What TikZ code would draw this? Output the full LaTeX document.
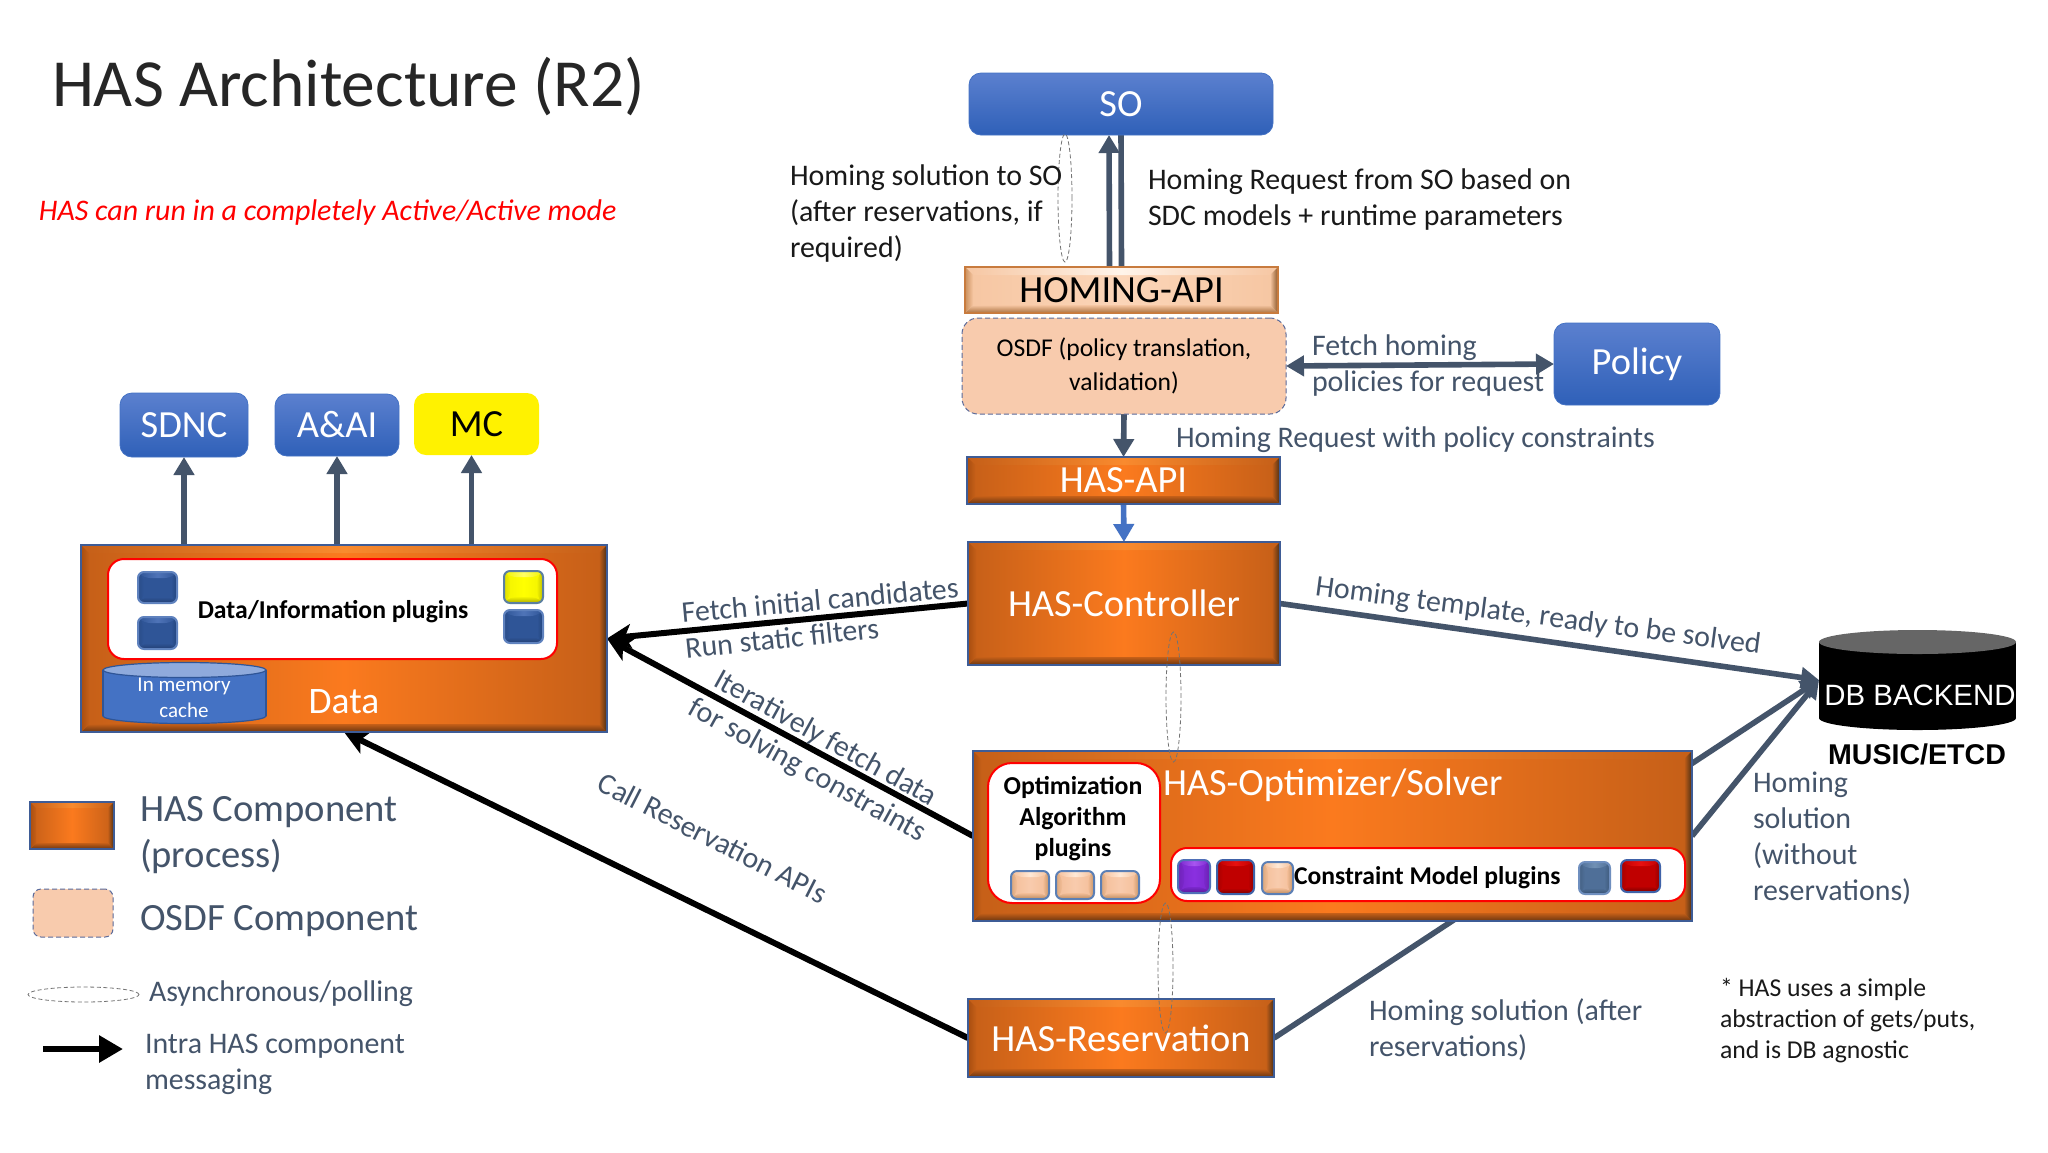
\documentclass[tikz,border=0pt]{standalone}
\usepackage{fontspec}
\setmainfont{Carlito}
\newfontfamily\arialf{Liberation Sans}
\usetikzlibrary{arrows.meta,calc,backgrounds,shapes.geometric}
\definecolor{slate}{HTML}{44546A}
\definecolor{peach}{HTML}{F8CBAD}
\definecolor{dashblue}{HTML}{5A6A9A}
\definecolor{bluetop}{HTML}{5B80CF}
\definecolor{bluebot}{HTML}{2F60B8}
\definecolor{blueln}{HTML}{4472C4}
\definecolor{bluedk}{HTML}{2F5597}
\definecolor{bluelt}{HTML}{8FAADC}
% orange bevel
\definecolor{oa}{HTML}{3E5C96}\definecolor{ob}{HTML}{FB7A1E}\definecolor{oc}{HTML}{C55F18}
\definecolor{od}{HTML}{F98A2E}\definecolor{oe}{HTML}{6A3510}\definecolor{of}{HTML}{A84E10}\definecolor{og}{HTML}{4A2E14}
% peach bevel
\definecolor{pa}{HTML}{C87B3E}\definecolor{pb}{HTML}{FBD5B8}\definecolor{pc}{HTML}{F6C6A2}
\definecolor{pd}{HTML}{FFF4EA}\definecolor{pe}{HTML}{A9703F}\definecolor{pf}{HTML}{C98F5C}\definecolor{pg}{HTML}{8A5528}
% small blue
\definecolor{sa}{HTML}{5F82BE}\definecolor{sb}{HTML}{2F5597}\definecolor{sd}{HTML}{4F74B8}\definecolor{se}{HTML}{233F73}\definecolor{sf}{HTML}{2A4D8A}\definecolor{sg}{HTML}{23457C}
% small yellow
\definecolor{ya}{HTML}{5B7FA0}\definecolor{yb}{HTML}{FFFF00}\definecolor{yc}{HTML}{F2F200}\definecolor{yd}{HTML}{FFFF66}\definecolor{ye}{HTML}{A8A800}\definecolor{yf}{HTML}{DDDD00}\definecolor{yg}{HTML}{BDBD00}
% small red
\definecolor{ra}{HTML}{3F62A8}\definecolor{rb}{HTML}{C00000}\definecolor{rd}{HTML}{E81010}\definecolor{re}{HTML}{7A0000}\definecolor{rf}{HTML}{A80000}\definecolor{rg}{HTML}{900000}
% small purple
\definecolor{va}{HTML}{4F70B8}\definecolor{vb}{HTML}{8A30E0}\definecolor{vc}{HTML}{7A28CC}\definecolor{vd}{HTML}{A855F0}\definecolor{ve}{HTML}{5A1A96}\definecolor{vf}{HTML}{7022B8}\definecolor{vg}{HTML}{6A20B0}
% small slate
\definecolor{ta}{HTML}{6F8FBF}\definecolor{tb}{HTML}{4F6F98}\definecolor{td}{HTML}{7090B5}\definecolor{te}{HTML}{36506F}\definecolor{tf}{HTML}{456285}\definecolor{tg}{HTML}{3E5A7C}
% small peach
\definecolor{qa}{HTML}{5B7FB5}\definecolor{qb}{HTML}{F8CBAD}\definecolor{qc}{HTML}{F4BE98}\definecolor{qd}{HTML}{FFE8D6}\definecolor{qe}{HTML}{B98A5F}\definecolor{qf}{HTML}{D8A67C}\definecolor{qg}{HTML}{C39468}
\newcommand{\fsz}[2]{\fontsize{#1}{#2}\selectfont}
\newcommand{\bx}[7][]{%
  \pgfmathsetmacro\cxx{(#3+#5)/2}\pgfmathsetmacro\cyy{(#4+#6)/2}%
  \node[inner sep=0pt,outer sep=0pt,minimum width={(#5-#3)*0.5pt},minimum height={(#6-#4)*0.5pt},align=center,#1] (#2) at (\cxx,\cyy) {#7};}
\tikzset{
  bevelbase/.style n args={8}{draw=#1,line width=1pt,
    path picture={
      \coordinate (nw) at (path picture bounding box.north west);
      \coordinate (ne) at (path picture bounding box.north east);
      \coordinate (sw) at (path picture bounding box.south west);
      \coordinate (se) at (path picture bounding box.south east);
      \shade[left color=#3,right color=#3,middle color=#2] (nw) rectangle (se);
      \shade[left color=#3,right color=#3,middle color=#4]
        (nw) -- (ne) -- ($(ne)+(-#8,#8)$) -- ($(nw)+(#8,#8)$) -- cycle;
      \shade[top color=#3,bottom color=#5]
        (sw) -- (se) -- ($(se)+(-#8,-#8)$) -- ($(sw)+(#8,-#8)$) -- cycle;
      \shade[left color=#6,right color=#3] (nw) -- (sw) -- ($(sw)+(#8,-#8)$) -- ($(nw)+(#8,#8)$) -- cycle;
      \shade[left color=#3,right color=#7] (ne) -- (se) -- ($(se)+(-#8,-#8)$) -- ($(ne)+(-#8,#8)$) -- cycle;
    }},
  hasbox/.style={bevelbase={oa}{ob}{oc}{od}{oe}{of}{og}{8},text=white},
  apibox/.style={bevelbase={pa}{pb}{pc}{pd}{pe}{pf}{pg}{8},text=black},
  btnblue/.style={bevelbase={sa}{sb}{sb}{sd}{se}{sf}{sg}{6},rounded corners=3pt},
  btnyellow/.style={bevelbase={ya}{yb}{yc}{yd}{ye}{yf}{yg}{6},rounded corners=3pt},
  btnred/.style={bevelbase={ra}{rb}{rb}{rd}{re}{rf}{rg}{6},rounded corners=3pt},
  btnpurple/.style={bevelbase={va}{vb}{vc}{vd}{ve}{vf}{vg}{6},rounded corners=3pt},
  btnslate/.style={bevelbase={ta}{tb}{tb}{td}{te}{tf}{tg}{6},rounded corners=3pt},
  btnpeach/.style={bevelbase={qa}{qb}{qc}{qd}{qe}{qf}{qg}{6},rounded corners=3pt},
  bluebox/.style={rounded corners=6pt,top color=bluetop,bottom color=bluebot,text=white,draw=blueln,line width=.4pt},
  yellowbox/.style={rounded corners=6pt,fill=yellow,text=black},
  whitered/.style={rounded corners=8pt,fill=white,draw=red,line width=1pt},
  osdfbox/.style={rounded corners=8pt,fill=peach,draw=dashblue,line width=.5pt,dash pattern=on 2.5pt off 1.5pt},
  asyncell/.style={ellipse,draw=black!55,line width=.4pt,dash pattern=on 2pt off 1.3pt},
  lbl/.style={inner sep=0pt,outer sep=0pt,text=slate,font=\fsz{14.95}{18},align=left},
  blk/.style={lbl,text=black!90},
  bld/.style={inner sep=0pt,outer sep=0pt,text=black,font=\bfseries\fsz{12.85}{15.5},align=center},
  conn/.style={draw=slate,line width=2.8pt},
  connarr/.style={conn,-{Triangle[length=9pt,width=10pt]}},
  intra/.style={draw=black,line width=3pt,-{Stealth[length=12pt,width=12pt,inset=3pt]}},
  bigtxt/.style={font=\fsz{19.2}{22}},
}
\begin{document}
\begin{tikzpicture}[x=0.5pt,y=-0.5pt]
\useasboundingbox (0,0) rectangle (2048,1152);
% ---- title texts ----
\node[lbl,anchor=west,text=black!85,font=\fsz{33.7}{38}] (title) at (52,87) {HAS Architecture (R2)};
\node[lbl,anchor=west,text=red,font=\itshape\fsz{14.95}{18}] (mode) at (39,213) {HAS can run in a completely Active/Active mode};
% ---- central column ----
\bx[bluebox,bigtxt]{so}{969}{73}{1273}{135}{\raisebox{-1pt}{SO}}
\bx[apibox,bigtxt]{hoa}{965}{267}{1278}{313}{\raisebox{-2.8pt}{HOMING-API}}
\bx[osdfbox,font=\fsz{12.8}{15.5},text=black]{osdf}{962}{318}{1286}{414}{OSDF (policy translation,\\\raisebox{-1.5pt}{validation)}}
\bx[bluebox,bigtxt]{policy}{1554}{323}{1720}{405}{\raisebox{-6.5pt}{Policy}}
\bx[hasbox,bigtxt]{hapi}{967}{457}{1280}{504}{\raisebox{-2.8pt}{HAS-API}}
\bx[hasbox,bigtxt]{ctrl}{968}{542}{1280}{665}{HAS-Controller}
\bx[hasbox]{opt}{973}{751}{1692}{921}{}
\bx[hasbox,bigtxt]{res}{968}{999}{1274}{1077}{HAS-Reservation}
% ---- optimizer contents ----
\node[lbl,anchor=west,text=white,font=\fsz{19.2}{22}] (opttxt) at (1163,785) {HAS-Optimizer/Solver};
\bx[whitered,rounded corners=12pt]{oplug}{988}{763}{1160}{903}{}
\node[bld,font=\bfseries\fsz{12.9}{15.5}] (otxt) at (1073,819) {Optimization\\Algorithm\\plugins};
\bx[btnpeach]{o1}{1011}{871}{1049}{899}{}
\bx[btnpeach]{o2}{1056}{871}{1094}{899}{}
\bx[btnpeach]{o3}{1101}{871}{1139}{899}{}
\bx[whitered]{cplug}{1171}{848}{1685}{901}{}
\bx[btnpurple]{c1}{1178}{860}{1210}{893}{}
\bx[btnred]{c2}{1217}{860}{1254}{894}{}
\bx[btnpeach]{c3}{1262}{862}{1293}{894}{}
\node[bld,anchor=west,font=\bfseries\fsz{12.8}{15}] (ctxt) at (1294,878) {Constraint Model plugins};
\bx[btnslate]{c4}{1579}{862}{1610}{894}{}
\bx[btnred]{c5}{1621}{860}{1660}{892}{}
% ---- top-left services and data ----
\bx[bluebox,bigtxt]{sdnc}{120}{393}{248}{457}{SDNC}
\bx[bluebox,bigtxt]{aai}{275}{394}{399}{456}{A\&AI}
\bx[yellowbox,bigtxt]{mc}{414}{393}{539}{455}{MC}
\bx[hasbox]{data}{81}{545}{607}{732}{}
\bx[whitered]{dplug}{108}{559}{557}{659}{}
\node[bld] (dtxt) at (333,612) {Data/Information plugins};
\bx[btnblue]{d1}{138}{572}{177}{603}{}
\bx[btnblue]{d2}{138}{617}{177}{649}{}
\bx[btnyellow]{d3}{504}{571}{543}{603}{}
\bx[btnblue]{d4}{504}{610}{543}{643}{}
% in-memory cache cylinder
\fill[blueln,draw=bluedk,line width=.6pt] (184.5,716) ellipse[x radius=81.5,y radius=7.5];
\fill[blueln] (103,670) rectangle (266,716);
\draw[bluedk,line width=.6pt] (103,670) -- (103,716) (266,670) -- (266,716);
\fill[bluelt,draw=bluedk,line width=.6pt] (184.5,670) ellipse[x radius=81.5,y radius=7.5];
\node[lbl,text=white,align=center,font=\fsz{10.5}{13}] (cache) at (184,698) {In memory\\cache};
\node[lbl,text=white,font=\fsz{18.7}{20}] (datatxt) at (344,702) {Data};
% ---- DB ----
\fill[black] (1917.5,718) ellipse[x radius=98.5,y radius=12];
\fill[black] (1819,642) rectangle (2016,718);
\fill[black!60] (1917.5,642) ellipse[x radius=98.5,y radius=12];
\bx{db}{1819}{630}{2016}{730}{}
\node[lbl,text=white,font=\arialf\fsz{14.7}{16}] (dbtxt) at (1920,695) {DB BACKEND};
\node[lbl,text=black,font=\arialf\bfseries\fsz{14.3}{16}] (music) at (1917,754) {MUSIC/ETCD};
% ---- async ellipses ----
\bx[asyncell]{e1}{1058}{134}{1072}{262}{}
\bx[asyncell]{e2}{1166}{632}{1181}{762}{}
\bx[asyncell]{e3}{1158}{903}{1173}{1033}{}
% ---- connector labels ----
\node[blk,anchor=west] (l1) at (790,213.5) {Homing solution to SO\\(after reservations, if\\required)};
\node[blk,anchor=west] (l2) at (1148,200) {Homing Request from SO based on\\SDC models + runtime parameters};
\node[lbl,anchor=west] (l3) at (1312,366) {Fetch homing\\policies for request};
\node[lbl,anchor=west] (l4) at (1176,440) {Homing Request with policy constraints};
\node[lbl,rotate=5.2] (l5) at (820,600) {Fetch initial candidates};
\node[lbl,rotate=6] (l6) at (782,638) {Run static filters};
\node[lbl,rotate=-29] (l7) at (825,739) {Iteratively fetch data};
\node[lbl,rotate=-29] (l8) at (807,771) {for solving constraints};
\node[lbl,rotate=-27] (l9) at (713,838) {Call Reservation APIs};
\node[lbl,rotate=-7.5] (l10) at (1538,617) {Homing template, ready to be solved};
\node[lbl,anchor=west] (l11) at (1369,1030) {Homing solution (after\\reservations)};
\node[lbl,anchor=west] (l12) at (1753,838) {Homing\\solution\\(without\\reservations)};
\node[blk,anchor=west,font=\fsz{12.85}{15.5}] (note) at (1720,1021) {* HAS uses a simple\\abstraction of gets/puts,\\and is DB agnostic};
% ---- legend ----
\bx[bevelbase={oa}{ob}{oc}{od}{oe}{of}{og}{6}]{lg1}{30}{802}{114}{849}{}
\node[lbl,anchor=west,font=\fsz{19.3}{23}] (lt1) at (140,835) {HAS Component\\(process)};
\bx[osdfbox,rounded corners=4pt]{lg2}{33}{889}{113}{937}{}
\node[lbl,anchor=west,font=\fsz{19.3}{23}] (lt2) at (140,921) {OSDF Component};
\bx[asyncell]{lg3}{28}{987}{139}{1002}{}
\node[lbl,anchor=west] (lt3) at (149,994) {Asynchronous/polling};
\coordinate (la) at (43,1049);
\coordinate (lb) at (123,1049);
\node[lbl,anchor=west] (lt4) at (145,1064) {Intra HAS component\\messaging};
% ---- connectors behind the boxes ----
\begin{scope}[on background layer]
\fill[white] (0,0) rectangle (2048,1152);
\draw[connarr] ($(hoa.north)+(-12,3)$) -- ($(so.south)+(-12,0)$);
\draw[conn] (so.south) -- (hoa.north);
\draw[connarr,{Triangle[length=9pt,width=10pt]}-{Triangle[length=9pt,width=10pt]}] (osdf.east) -- (policy.west);
\draw[connarr] (osdf.south) -- (hapi.north);
\draw[draw=blueln,line width=2.8pt,-{Triangle[length=9pt,width=10pt]}] (hapi.south) -- (ctrl.north);
\draw[connarr] (data.north -| sdnc.south) -- (sdnc.south);
\draw[connarr] (data.north -| aai.south) -- (aai.south);
\draw[connarr] ($(data.north -| mc.south)+(-5,0)$) -- ($(mc.south)+(-5,0)$);
\draw[connarr] (ctrl.east) -- (db.west);
\draw[connarr] (opt.east) -- (db.west);
\draw[connarr] (res.east) -- (db.west);
\draw[intra] (ctrl.west) -- (data.east);
\draw[intra] (opt.west) -- (data.east);
\draw[intra] (res.west) -- (data.south);
\draw[draw=black,line width=3pt,-{Triangle[length=12pt,width=13pt]}] (la) -- (lb);
\end{scope}
\end{tikzpicture}
\end{document}
